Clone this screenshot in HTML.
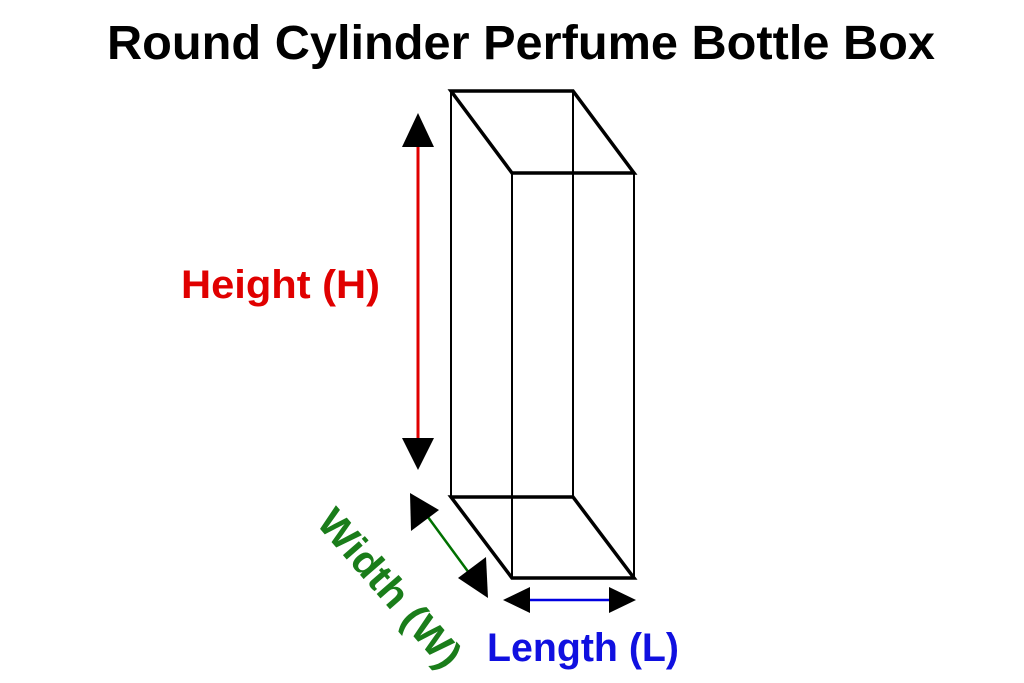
<!DOCTYPE html>
<html><head><meta charset="utf-8"><style>
html,body{margin:0;padding:0;background:#fff;}
svg{display:block}
text{font-family:"Liberation Sans",sans-serif;}
</style></head><body>
<svg width="1024" height="683" viewBox="0 0 1024 683" xmlns="http://www.w3.org/2000/svg">
<text x="107" y="59" font-size="48" font-weight="bold" fill="#000" textLength="828" lengthAdjust="spacingAndGlyphs">Round Cylinder Perfume Bottle Box</text>
<g stroke="#000" stroke-width="2" fill="none">
<line x1="451" y1="91" x2="451" y2="497"/>
<line x1="573" y1="91" x2="573" y2="497"/>
<line x1="512" y1="173" x2="512" y2="578"/>
<line x1="634" y1="173" x2="634" y2="578"/>
</g>
<g stroke="#000" stroke-width="3.5" fill="none" stroke-linejoin="miter">
<polygon points="451,91 573,91 634,173 512,173"/>
<polygon points="451,497 573,497 634,578 512,578"/>
</g>
<line x1="418" y1="145" x2="418" y2="440" stroke="#e00000" stroke-width="3"/>
<polygon points="418,113 402,147 434,147" fill="#000"/>
<polygon points="418,470 402,438 434,438" fill="#000"/>
<text x="181" y="298" font-size="40" font-weight="bold" fill="#e00000" textLength="199" lengthAdjust="spacingAndGlyphs">Height (H)</text>
<line x1="425" y1="513" x2="472" y2="577" stroke="#007000" stroke-width="2.5"/>
<polygon points="410,493 411,531 439,510" fill="#000"/>
<polygon points="488,598 458,578 486,557" fill="#000"/>
<text transform="translate(390,588) rotate(49)" x="0" y="14" text-anchor="middle" font-size="40" font-weight="bold" fill="#1a7d1a" textLength="196" lengthAdjust="spacingAndGlyphs">Width (W)</text>
<line x1="528" y1="600" x2="612" y2="600" stroke="#0000e0" stroke-width="2.5"/>
<polygon points="503,600 530,587 530,613" fill="#000"/>
<polygon points="636,600 609,587 609,613" fill="#000"/>
<text x="487" y="661" font-size="40" font-weight="bold" fill="#1010e0" textLength="192" lengthAdjust="spacingAndGlyphs">Length (L)</text>
</svg>
</body></html>
